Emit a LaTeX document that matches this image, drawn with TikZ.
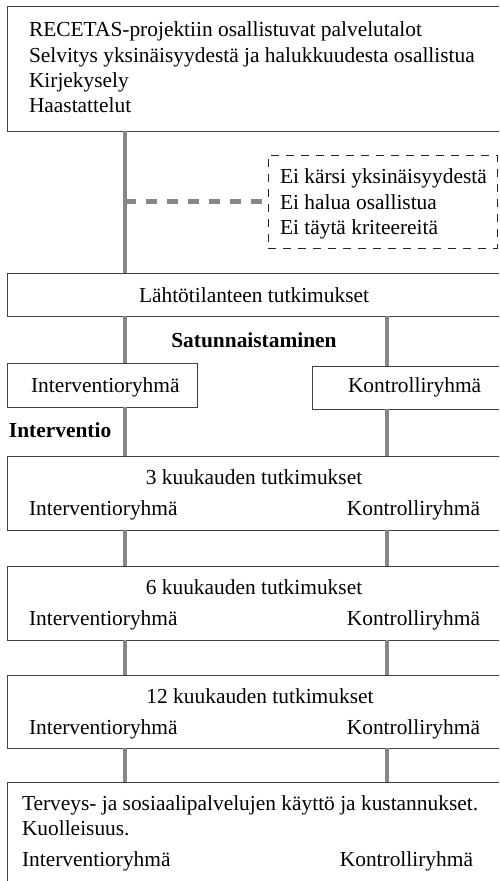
\documentclass[tikz,border=0pt]{standalone}
\usepackage{fontspec}
\setmainfont{Liberation Serif}
\begin{document}
\begin{tikzpicture}[x=1pt,y=-1pt,
  box/.style={draw=black!75, line width=1pt, inner sep=0pt, outer sep=0pt, anchor=north west},
  dbox/.style={draw=black!85, line width=1pt, dash pattern=on 8pt off 7pt, inner sep=0pt, outer sep=0pt, anchor=north west},
  gline/.style={draw=black!47, line width=4pt},
  gdash/.style={draw=black!47, line width=4.5pt, dash pattern=on 11pt off 10pt},
  txt/.style={inner sep=0pt, outer sep=0pt, font=\fontsize{21.4}{25}\selectfont},
  btxt/.style={txt, font=\fontsize{21.4}{25}\selectfont\bfseries}]
\clip (0,0) rectangle (499,881);
\useasboundingbox (0,0) rectangle (499,881);
\fill[white] (0,0) rectangle (499,881);
\coordinate (L) at (125,0);
\coordinate (R) at (387,0);
% boxes
\node[box, minimum width=513pt, minimum height=125pt] (top) at (7,6) {};
\node[dbox, minimum width=229pt, minimum height=93pt] (excl) at (268,155) {};
\node[box, minimum width=513pt, minimum height=43pt] (lahto) at (7,273) {};
\node[box, minimum width=190pt, minimum height=44pt] (ig) at (7,363) {};
\node[box, minimum width=208pt, minimum height=43pt] (kg) at (312,366) {};
\node[box, minimum width=513pt, minimum height=74pt] (m3) at (7,456) {};
\node[box, minimum width=513pt, minimum height=74pt] (m6) at (7,566) {};
\node[box, minimum width=513pt, minimum height=73pt] (m12) at (7,675) {};
\node[box, minimum width=513pt, minimum height=120pt] (last) at (7,782) {};
% connectors
\draw[gline] (top.south -| L) -- (lahto.north -| L);
\draw[gdash] (excl.west -| L) -- (excl.west);
\draw[gline] (lahto.south -| L) -- (ig.north -| L);
\draw[gline] (lahto.south -| R) -- (kg.north -| R);
\draw[gline] (ig.south -| L) -- (m3.north -| L);
\draw[gline] (kg.south -| R) -- (m3.north -| R);
\draw[gline] (m3.south -| L) -- (m6.north -| L);
\draw[gline] (m3.south -| R) -- (m6.north -| R);
\draw[gline] (m6.south -| L) -- (m12.north -| L);
\draw[gline] (m6.south -| R) -- (m12.north -| R);
\draw[gline] (m12.south -| L) -- (last.north -| L);
\draw[gline] (m12.south -| R) -- (last.north -| R);
% texts
\node[txt, anchor=base west] (t1) at (29,36) {RECETAS-projektiin osallistuvat palvelutalot};
\node[txt, anchor=base west] (t2) at (29,62) {Selvitys yksinäisyydestä ja halukkuudesta osallistua};
\node[txt, anchor=base west] (t3) at (29,87) {Kirjekysely};
\node[txt, anchor=base west] (t4) at (29,112) {Haastattelut};
\node[txt, anchor=base west] (e1) at (280,183) {Ei kärsi yksinäisyydestä};
\node[txt, anchor=base west] (e2) at (280,209) {Ei halua osallistua};
\node[txt, anchor=base west] (e3) at (280,234) {Ei täytä kriteereitä};
\node[txt, anchor=base] (lt) at (254,302) {Lähtötilanteen tutkimukset};
\node[btxt, anchor=base] (sat) at (254,347) {Satunnaistaminen};
\node[txt, anchor=base west] (igt) at (31,392) {Interventioryhmä};
\node[txt, anchor=base west] (kgt) at (348,392) {Kontrolliryhmä};
\node[btxt, anchor=base west] (int) at (9,437) {Interventio};
\node[txt, anchor=base] (m3t) at (254,484) {3 kuukauden tutkimukset};
\node[txt, anchor=base west] (m3i) at (29,515) {Interventioryhmä};
\node[txt, anchor=base east] (m3k) at (480,515) {Kontrolliryhmä};
\node[txt, anchor=base] (m6t) at (254,594) {6 kuukauden tutkimukset};
\node[txt, anchor=base west] (m6i) at (29,625) {Interventioryhmä};
\node[txt, anchor=base east] (m6k) at (480,625) {Kontrolliryhmä};
\node[txt, anchor=base] (m12t) at (260,703) {12 kuukauden tutkimukset};
\node[txt, anchor=base west] (m12i) at (29,734) {Interventioryhmä};
\node[txt, anchor=base east] (m12k) at (480,734) {Kontrolliryhmä};
\node[txt, anchor=base west] (l1) at (22,810) {Terveys- ja sosiaalipalvelujen käyttö ja kustannukset.};
\node[txt, anchor=base west] (l2) at (22,835) {Kuolleisuus.};
\node[txt, anchor=base west] (li) at (22,866) {Interventioryhmä};
\node[txt, anchor=base east] (lk) at (473,866) {Kontrolliryhmä};
\end{tikzpicture}
\end{document}
